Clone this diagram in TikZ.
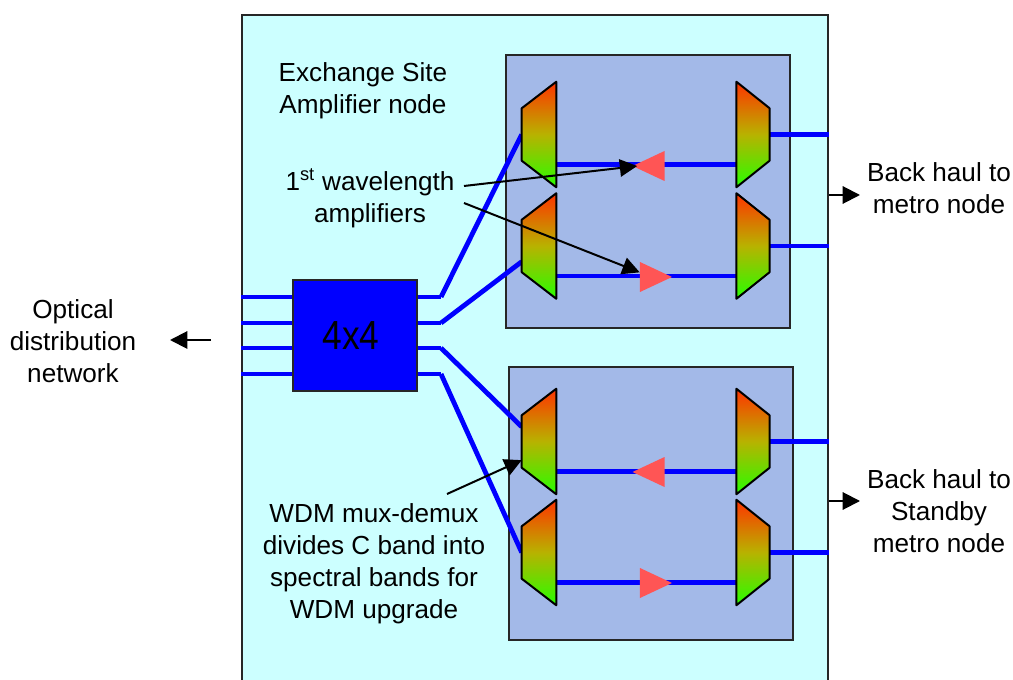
\documentclass[tikz,border=0pt]{standalone}
\usepackage{fontspec}
\setmainfont{Liberation Sans}
\usepackage{xcolor}
\usepackage{graphicx}
\usetikzlibrary{arrows.meta,positioning,shapes.geometric}
\definecolor{sitecyan}{HTML}{CCFFFF}
\definecolor{bandblue}{HTML}{A3B9E8}
\definecolor{amppink}{HTML}{FF5555}
\definecolor{fibreblue}{HTML}{0000FF}
\pgfdeclareverticalshading{muxgrad}{100bp}{rgb(0bp)=(0.15,1,0); rgb(25bp)=(0.15,1,0); rgb(50bp)=(0.72,0.7,0); rgb(75bp)=(1,0.2,0); rgb(100bp)=(1,0.2,0)}
\begin{document}
\begin{tikzpicture}[x=0.75pt,y=-0.75pt,>={Triangle[length=13pt,width=13pt]},
  note/.style={font=\fontsize{19.6}{24}\selectfont,align=center,inner sep=0pt},
  band/.style={draw=black!85,line width=1.5pt,fill=bandblue,minimum width=213pt,minimum height=204.75pt,inner sep=0pt},
  mux/.style={inner sep=0pt,minimum width=25.5pt,minimum height=78.75pt},
  demux/.style={inner sep=0pt,minimum width=24.5pt,minimum height=78.75pt},
  muxface/.style={draw=black,line width=1.5pt,line join=round,shading=muxgrad},
  amp/.style={isosceles triangle,isosceles triangle stretches,fill=amppink,inner sep=0pt,minimum width=22.5pt,minimum height=24pt},
  ampleft/.style={amp,shape border rotate=180},
  ampright/.style={amp,shape border rotate=0},
  fibre/.style={draw=fibreblue,line width=3.6pt},
  pointer/.style={->,line width=1.5pt}]
    \useasboundingbox (0,0) rectangle (1013,680);
    \node[draw=black!85,line width=1.5pt,fill=sitecyan,minimum width=439.5pt,minimum height=510pt,inner sep=0pt] (site) at (535,355) {};
    \node[band] (upper) at (648,191.5) {};
    \node[band] (lower) at (650.5,503.5) {};
    \node[mux] (mux1) at (539,134.5) {};
    \node[mux] (mux2) at (539,246) {};
    \node[mux] (mux3) at (539,441.5) {};
    \node[mux] (mux4) at (539,552.5) {};
    \node[demux] (dem1) at (753,134.5) {};
    \node[demux] (dem2) at (753,246) {};
    \node[demux] (dem3) at (753,441.5) {};
    \node[demux] (dem4) at (753,552.5) {};
    \node[draw=black!85,line width=1.5pt,fill=fibreblue,minimum width=93pt,minimum height=83.25pt,inner sep=0pt,
      font=\fontsize{26.5}{30}\selectfont] (hub) at (355,335.5) {\scalebox{1}[1.15]{4x4\hspace{6pt}}};
    \coordinate (bend1) at (441,297);
    \coordinate (bend2) at (441,323);
    \coordinate (bend3) at (441,348);
    \coordinate (bend4) at (441,374);
    % fibres on both sides of the coupler
    \foreach \i in {1,2,3,4}
      \path[fibre] (site.west |- bend\i) edge (hub.west |- bend\i)
      (hub.east |- bend\i) edge (bend\i);
    \path[fibre] (bend1) edge (mux1.west)
    (bend2) edge ([yshift=-11.75pt]mux2.west)
    (bend3) edge ([yshift=11pt]mux3.west)
    (bend4) edge (mux4.west);
    % amplified paths and exits
    \foreach \i in {1,2,3,4} {
      \path[fibre] ([yshift=-22.5pt]mux\i.east) edge ([yshift=-22.5pt]dem\i.west)
      (dem\i.east) edge (site.east |- dem\i.east);
      \draw[muxface] (mux\i.north east) -- (mux\i.south east)
      -- ([yshift=19.9pt]mux\i.south west) -- ([yshift=-19.9pt]mux\i.north west) -- cycle;
      \draw[muxface] (dem\i.north west) -- (dem\i.south west)
      -- ([yshift=19.9pt]dem\i.south east) -- ([yshift=-19.9pt]dem\i.north east) -- cycle;
    }
    \node[ampleft] (amp1) at (655,166) {};
    \node[ampright] (amp2) at (649.5,277) {};
    \node[ampleft] (amp3) at (655,472) {};
    \node[ampright] (amp4) at (649.5,583) {};
    \node[note] (sitename) at (363,91) {Exchange Site\\Amplifier node};
    \node[note] (ampname) at (370,198) {1\textsuperscript{st} wavelength\\amplifiers};
    \node[note] (wdmname) at (374,563.5) {WDM mux-demux\\divides C band into\\spectral bands for\\WDM upgrade};
    \node[note] (odn) at (73,341) {Optical\\distribution\\network};
    \node[note] (metro) at (939,188) {Back haul to\\metro node};
    \node[note] (standby) at (939,511) {Back haul to\\Standby\\metro node};
    \coordinate (pa) at (464,186);
    \coordinate (pb) at (464,203);
    \coordinate (pc) at (447,494);
    \coordinate (pd) at (860,195);
    \coordinate (pe) at (860,501);
    \coordinate (pf) at (211,340);
    \coordinate (pg) at (170,340);
    \draw[pointer] (pa) -- ([xshift=4pt]amp1.apex);
    \draw[pointer] (pb) -- ([yshift=3.5pt]amp2.lower side);
    \draw[pointer] (pc) -- ([yshift=-14pt]mux3.west);
    \draw[pointer] (site.east |- pd) -- (pd);
    \draw[pointer] (site.east |- pe) -- (pe);
    \draw[pointer] (pf) -- (pg);
\end{tikzpicture}
\end{document}
